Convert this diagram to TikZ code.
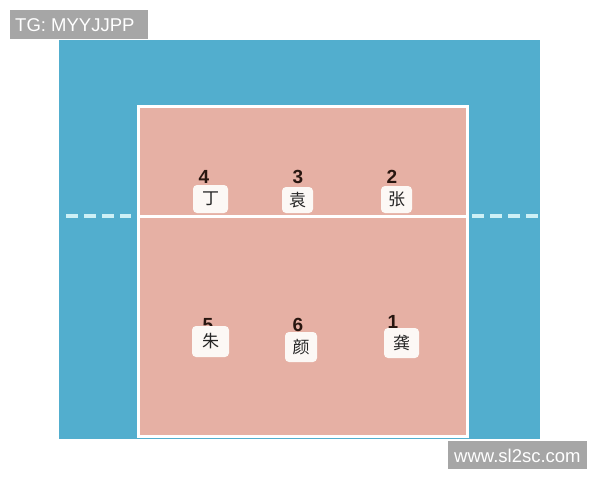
\documentclass[tikz,border=0pt]{standalone}
\usepackage{fontspec}
\setmainfont{Liberation Sans}
\newfontfamily\cjk{Noto Sans CJK SC}
\definecolor{courtblue}{RGB}{82,174,206}
\definecolor{courtpink}{RGB}{230,176,164}
\definecolor{taggray}{RGB}{166,166,166}
\definecolor{dashcol}{RGB}{205,240,246}
\definecolor{boxwhite}{RGB}{252,248,245}
\definecolor{numcol}{RGB}{40,22,16}
\tikzset{
  namebox/.style={fill=boxwhite, rounded corners=4pt, inner sep=0pt, font=\cjk\fontsize{17}{17}\selectfont, text=black!85},
  numlabel/.style={font=\bfseries\fontsize{19}{19}\selectfont, text=numcol, inner sep=0pt},
  tagbox/.style={fill=taggray, inner sep=0pt},
  tagtext/.style={anchor=west, text=white, font=\fontsize{18.5}{18.5}\selectfont, inner sep=0pt},
  sideline/.style={draw=dashcol, line width=4.5pt, dash pattern=on 11.5pt off 6.5pt}
}
\begin{document}
\begin{tikzpicture}[x=1pt,y=-1pt]
\useasboundingbox (0,0) rectangle (600,480);
\fill[white] (0,0) rectangle (600,480);
% blue surround
\fill[courtblue] (59,40) rectangle (540,439);
% court
\fill[courtpink] (138.5,106.5) rectangle (467.5,436);
\draw[white, line width=3pt] (138.5,106.5) rectangle (467.5,436);
\coordinate (netL) at (138.5,216);
\coordinate (netR) at (467.5,216);
\draw[white, line width=3pt] (netL) -- (netR);
% dashed extensions
\coordinate (dl1) at (66,216);
\coordinate (dl2) at (131,216);
\coordinate (dr1) at (472,216);
\coordinate (dr2) at (540,216);
\draw[sideline] (dl1) -- (dl2);
\draw[sideline] (dr1) -- (dr2);
% numbers
\node[numlabel] (n4) at (204,176.5) {4};
\node[numlabel] (n3) at (298,177) {3};
\node[numlabel] (n2) at (392,177) {2};
\node[numlabel] (n5) at (208,325.5) {5};
\node[numlabel] (n6) at (298,325) {6};
\node[numlabel] (n1) at (393,322) {1};
% name boxes
\node[namebox, minimum width=35pt, minimum height=28pt] (p4) at (210.5,199) {丁};
\node[namebox, minimum width=31pt, minimum height=26pt] (p3) at (297.5,200) {袁};
\node[namebox, minimum width=31pt, minimum height=27pt] (p2) at (396.5,199.5) {张};
\node[namebox, minimum width=37pt, minimum height=31pt] (p5) at (210.5,341.5) {朱};
\node[namebox, minimum width=32pt, minimum height=30pt] (p6) at (301,347) {颜};
\node[namebox, minimum width=35pt, minimum height=30pt] (p1) at (401.5,343) {龚};
% tags
\node[tagbox, minimum width=138pt, minimum height=29pt, anchor=north west] (tg) at (10,10) {};
\node[tagtext] (tgt) at (15,25) {TG: MYYJJPP};
\node[tagbox, minimum width=139pt, minimum height=28pt, anchor=north west] (wm) at (448,441) {};
\node[tagtext] (wmt) at (454,455.5) {www.sl2sc.com};
\end{tikzpicture}
\end{document}
